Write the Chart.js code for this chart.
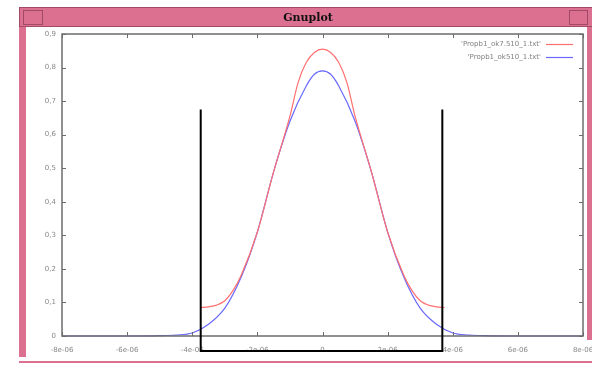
<!DOCTYPE html>
<html>
<head>
<meta charset="utf-8">
<script src="https://cdn.jsdelivr.net/npm/chart.js@4/dist/chart.umd.min.js"></script>
<style>
  html, body { margin: 0; padding: 0; background: #fff; }
  #wrap { width: 592px; height: 365px; }
</style>
</head>
<body>
<div id="wrap"><canvas id="c" width="592" height="365"></canvas></div>
<script>
// x in units of 1e-06
const blueX = [-8, -7, -6, -5, -4.5, -4, -3.5, -3, -2.5, -2, -1.5, -1, -0.5, -0.25, 0, 0.25, 0.5, 1, 1.5, 2, 2.5, 3, 3.5, 4, 4.5, 5, 6, 7, 8];
const blueY = [0, 0, 0, 0.001, 0.003, 0.009, 0.035, 0.083, 0.175, 0.31, 0.49, 0.64, 0.745, 0.78, 0.79, 0.78, 0.745, 0.64, 0.49, 0.31, 0.175, 0.083, 0.035, 0.009, 0.003, 0.001, 0, 0, 0];

const redX = [-3.75, -3.5, -3.25, -3, -2.75, -2.5, -2, -1.5, -1, -0.75, -0.5, -0.25, 0, 0.25, 0.5, 0.75, 1, 1.5, 2, 2.5, 2.75, 3, 3.25, 3.5, 3.75];
const redY = [0.085, 0.087, 0.092, 0.105, 0.135, 0.18, 0.31, 0.49, 0.655, 0.755, 0.815, 0.845, 0.855, 0.845, 0.815, 0.755, 0.655, 0.49, 0.31, 0.18, 0.135, 0.105, 0.092, 0.087, 0.085];

const seriesNames = ["'Propb1_ok7.510_1.txt'", "'Propb1_ok510_1.txt'"];
const xTicks = [-8, -6, -4, -2, 0, 2, 4, 6, 8];
const yTicks = [0, 0.1, 0.2, 0.3, 0.4, 0.5, 0.6, 0.7, 0.8, 0.9];

// hand drawn bracket over the plot
const bracketX = [-3.74, 3.68];
const bracketY = [0.675, -0.045];

const RED = '#ff7070';
const BLUE = '#6868ff';
const PINK = '#dc7090';

function xLabel(v) { return v === 0 ? '0' : v + 'e-06'; }
function yLabel(v) { return v === 0 ? '0' : v.toFixed(1).replace('.', ','); }

const chrome = {
  id: 'chrome',
  beforeDraw(chart) {
    const g = chart.ctx;
    g.save();
    g.fillStyle = '#fff';
    g.fillRect(0, 0, 592, 365);
    // window frame
    g.fillStyle = PINK;
    g.fillRect(19, 7, 573, 20);
    g.fillRect(19, 7, 7, 350);
    g.fillRect(587, 7, 5, 333);
    g.fillRect(19, 361, 573, 2);
    g.strokeStyle = '#a04a66';
    g.lineWidth = 1;
    g.strokeRect(19.5, 7.5, 580, 19);
    g.strokeRect(23.5, 10.5, 19, 14);
    g.strokeRect(569.5, 10.5, 18, 14);
    g.fillStyle = '#111';
    g.font = 'bold 11px "DejaVu Serif"';
    g.textAlign = 'center';
    g.textBaseline = 'middle';
    g.fillText('Gnuplot', 308, 18);
    g.restore();
  },
  afterDatasetsDraw(chart) {
    const g = chart.ctx, a = chart.chartArea;
    const xs = chart.scales.x, ys = chart.scales.y;
    g.save();
    g.strokeStyle = '#6c6c6c';
    g.lineWidth = 1.5;
    g.strokeRect(a.left, a.top, a.right - a.left, a.bottom - a.top);
    g.lineWidth = 1;
    g.beginPath();
    xTicks.forEach(v => {
      const p = Math.round(xs.getPixelForValue(v)) + 0.5;
      g.moveTo(p, a.bottom); g.lineTo(p, a.bottom - 4);
      g.moveTo(p, a.top); g.lineTo(p, a.top + 4);
    });
    yTicks.forEach(v => {
      const p = Math.round(ys.getPixelForValue(v)) + 0.5;
      g.moveTo(a.left, p); g.lineTo(a.left + 4, p);
      g.moveTo(a.right, p); g.lineTo(a.right - 4, p);
    });
    g.stroke();
    // key
    g.font = '7px "DejaVu Sans"';
    g.textAlign = 'right';
    g.textBaseline = 'middle';
    chart.data.datasets.forEach((ds, i) => {
      const y = 44 + i * 13;
      g.fillStyle = '#808080';
      g.fillText(ds.label, 541, y);
      g.strokeStyle = ds.borderColor;
      g.lineWidth = 1.2;
      g.beginPath();
      g.moveTo(546, y + 0.5); g.lineTo(573, y + 0.5);
      g.stroke();
    });
    g.restore();
  },
  afterDraw(chart) {
    const g = chart.ctx;
    const xs = chart.scales.x, ys = chart.scales.y;
    const l = xs.getPixelForValue(bracketX[0]), r = xs.getPixelForValue(bracketX[1]);
    const t = ys.getPixelForValue(bracketY[0]), b = ys.getPixelForValue(bracketY[1]);
    g.save();
    g.strokeStyle = '#000';
    g.lineWidth = 2;
    g.beginPath();
    g.moveTo(l, t); g.lineTo(l, b); g.lineTo(r, b); g.lineTo(r, t);
    g.stroke();
    g.restore();
  }
};

new Chart(document.getElementById('c'), {
  type: 'line',
  data: {
    datasets: [
      { label: seriesNames[0], data: redX.map((x, i) => ({ x, y: redY[i] })), borderColor: RED },
      { label: seriesNames[1], data: blueX.map((x, i) => ({ x, y: blueY[i] })), borderColor: BLUE }
    ]
  },
  options: {
    responsive: false,
    animation: false,
    events: [],
    layout: { padding: { top: 34, right: 9, left: 0, bottom: 0 } },
    elements: {
      point: { radius: 0 },
      line: { borderWidth: 1.2, cubicInterpolationMode: 'monotone', fill: false }
    },
    datasets: { line: { clip: 3 } },
    plugins: { legend: { display: false }, tooltip: { enabled: false } },
    scales: {
      x: {
        type: 'linear', min: -8, max: 8,
        afterBuildTicks: s => { s.ticks = xTicks.map(v => ({ value: v })); },
        afterFit: s => { s.height = 29; s.paddingLeft = 0; s.paddingRight = 0; },
        grid: { display: false, drawTicks: false },
        border: { display: false },
        ticks: { callback: xLabel, padding: 10, maxRotation: 0, autoSkip: false, color: '#888', font: { family: 'DejaVu Sans', size: 7 } }
      },
      y: {
        type: 'linear', min: 0, max: 0.9,
        afterBuildTicks: s => { s.ticks = yTicks.map(v => ({ value: v })); },
        afterFit: s => { s.width = 62; },
        grid: { display: false, drawTicks: false },
        border: { display: false },
        ticks: { callback: yLabel, padding: 6, autoSkip: false, color: '#888', font: { family: 'DejaVu Sans', size: 7 } }
      }
    }
  },
  plugins: [chrome]
});
</script>
</body>
</html>
